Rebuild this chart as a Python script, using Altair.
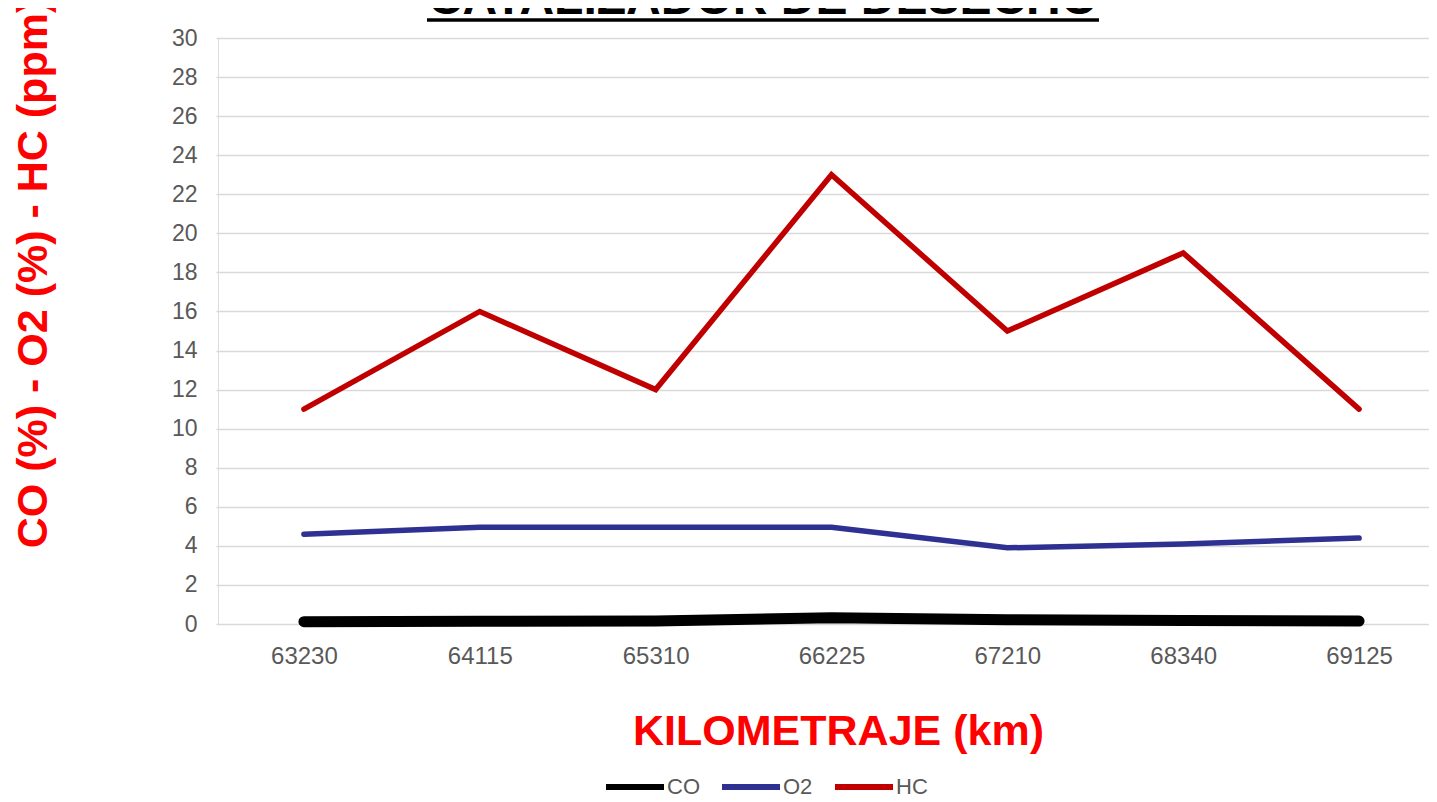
import altair as alt
import pandas as pd

km = ["63230", "64115", "65310", "66225", "67210", "68340", "69125"]
co = [0.12, 0.14, 0.16, 0.32, 0.22, 0.18, 0.15]
o2 = [4.6, 4.95, 4.95, 4.95, 3.9, 4.1, 4.4]
hc = [11, 16, 12, 23, 15, 19, 11]
series = ["CO", "O2", "HC"]
colors = ["#000000", "#2E3192", "#C00000"]
title_text = "CATALIZADOR DE DESECHO"

rows = []
for name, vals in zip(series, [co, o2, hc]):
    for k, v in zip(km, vals):
        rows.append({"km": k, "serie": name, "valor": v})
df = pd.DataFrame(rows)

FONT = "Liberation Sans"

x_enc = alt.X("km:O", sort=km, scale=alt.Scale(type="point", padding=0.5, range=[-2, 1229]),
              axis=alt.Axis(title="KILOMETRAJE (km)", labelAngle=0, domain=False, ticks=False,
                            labelPadding=20, labelFontSize=24, labelColor="#595959", labelFont=FONT,
                            titleFont=FONT, titleFontSize=43, titleFontWeight="bold", titleColor="#FF0000",
                            titleX=620, titleY=120, titleBaseline="alphabetic", titleAnchor="start", titleAlign="center"))
y_enc = alt.Y("valor:Q", scale=alt.Scale(domain=[0, 30], nice=False),
              axis=alt.Axis(title="CO (%) - O2 (%) - HC (ppm)", values=list(range(0, 31, 2)), domain=False, ticks=False,
                            labelPadding=21, labelFontSize=23, labelColor="#595959", labelFont=FONT,
                            gridColor="#D9D9D9", gridWidth=1.6,
                            titleFont=FONT, titleFontSize=43, titleFontWeight="bold", titleColor="#FF0000",
                            titleX=-172, titleY=235, titleAngle=270, titleBaseline="alphabetic", titleAlign="center"))
c_enc = alt.Color("serie:N", sort=series, scale=alt.Scale(domain=series, range=colors),
                  legend=alt.Legend(title=None, orient="none", legendX=385, legendY=717, direction="horizontal",
                                    columns=3, symbolType="stroke", symbolSize=3364, symbolStrokeWidth=6,
                                    labelFontSize=22, labelColor="#595959", labelFont=FONT, labelOffset=0,
                                    labelBaseline="middle", columnPadding=10, padding=0))

base = alt.Chart(df)
co_line = base.transform_filter(alt.datum.serie == "CO").mark_line(
    strokeCap="round", strokeWidth=11).encode(x=x_enc, y=y_enc, color=c_enc)
other_lines = base.transform_filter(alt.datum.serie != "CO").mark_line(
    strokeCap="round", strokeWidth=5.5).encode(x=x_enc, y=y_enc, color=c_enc)

title_df = pd.DataFrame({"t": [title_text]})
title_mark = alt.Chart(title_df).mark_text(font=FONT, fontSize=48, fontWeight="bold", color="black",
                                           align="center", baseline="alphabetic").encode(
    text="t:N", x=alt.value(545), y=alt.value(-24.5))
underline = alt.Chart(title_df).mark_rule(color="black", strokeWidth=3.5).encode(
    x=alt.value(209), x2=alt.value(881), y=alt.value(-18))

chart = alt.layer(co_line, other_lines, title_mark, underline).properties(
    width=1211, height=586,
    autosize=alt.AutoSizeParams(type="none"),
    padding={"left": 210, "top": 30, "right": 0, "bottom": 170},
).configure_view(stroke=None).configure(font=FONT)

chart.save("out.html", embed_options={"renderer": "svg", "actions": False})
